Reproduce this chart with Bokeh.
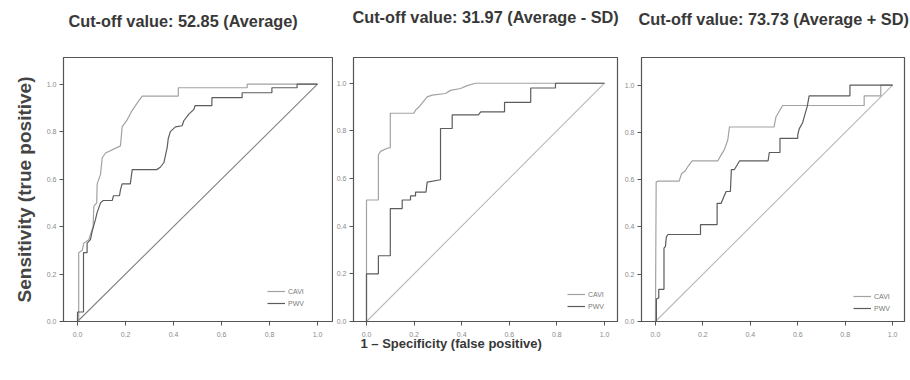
from bokeh.plotting import figure
from bokeh.layouts import row
from bokeh.models import Range1d, FixedTicker, Title
from bokeh.embed import file_html
from bokeh.resources import INLINE

# ---------------- data ----------------
ticks = [0.0, 0.2, 0.4, 0.6, 0.8, 1.0]
tick_labels = ["0.0", "0.2", "0.4", "0.6", "0.8", "1.0"]
series_names = ["CAVI", "PWV"]
titles = ["Cut-off value: 52.85 (Average)",
          "Cut-off value: 31.97 (Average - SD)",
          "Cut-off value: 73.73 (Average + SD)"]
x_title = "1 \u2013 Specificity (false positive)"
y_title = "Sensitivity (true positive)"

diag_x = [0.0, 1.0]
diag_y = [0.0, 1.0]

# Panel 1 (Average)
p1_cavi_x = [0, 0.005, 0.005, 0.02, 0.026, 0.047, 0.065, 0.068, 0.08, 0.082, 0.096, 0.103, 0.117,
             0.179, 0.186, 0.207, 0.228, 0.255, 0.27, 0.42, 0.42, 0.707, 0.707, 1.0]
p1_cavi_y = [0, 0, 0.29, 0.30, 0.33, 0.345, 0.40, 0.485, 0.50, 0.58, 0.62, 0.69, 0.71,
             0.74, 0.82, 0.85, 0.89, 0.93, 0.95, 0.95, 0.985, 0.985, 1.0, 1.0]
p1_pwv_x = [0, 0, 0.025, 0.025, 0.04, 0.04, 0.054, 0.061, 0.075, 0.082, 0.096, 0.107, 0.145, 0.15,
            0.175, 0.179, 0.186, 0.22, 0.228, 0.33, 0.345, 0.36, 0.374, 0.378, 0.387, 0.408, 0.436,
            0.443, 0.464, 0.485, 0.49, 0.56, 0.56, 0.686, 0.686, 0.81, 0.81, 0.915, 0.915, 1.0]
p1_pwv_y = [0, 0.04, 0.04, 0.29, 0.29, 0.33, 0.345, 0.38, 0.43, 0.46, 0.50, 0.51, 0.51, 0.53,
            0.53, 0.555, 0.58, 0.58, 0.64, 0.64, 0.65, 0.67, 0.735, 0.77, 0.80, 0.82, 0.825,
            0.846, 0.874, 0.894, 0.91, 0.91, 0.943, 0.943, 0.964, 0.964, 0.985, 0.985, 1.0, 1.0]

# Panel 2 (Average - SD)
p2_cavi_x = [0, 0, 0.05, 0.05, 0.059, 0.087, 0.10, 0.10, 0.199, 0.206, 0.22, 0.255, 0.276, 0.332,
             0.353, 0.395, 0.423, 0.458, 1.0]
p2_cavi_y = [0, 0.51, 0.51, 0.70, 0.714, 0.727, 0.73, 0.874, 0.874, 0.887, 0.90, 0.943, 0.95, 0.957,
             0.97, 0.978, 0.99, 1.0, 1.0]
p2_pwv_x = [0, 0, 0.05, 0.05, 0.10, 0.10, 0.15, 0.15, 0.185, 0.185, 0.206, 0.206, 0.25, 0.255, 0.311,
            0.311, 0.36, 0.36, 0.47, 0.48, 0.58, 0.58, 0.69, 0.69, 0.794, 0.794, 1.0]
p2_pwv_y = [0, 0.20, 0.20, 0.276, 0.276, 0.474, 0.474, 0.51, 0.51, 0.527, 0.527, 0.543, 0.543, 0.585,
            0.595, 0.81, 0.81, 0.867, 0.867, 0.88, 0.88, 0.92, 0.92, 0.98, 0.98, 1.0, 1.0]

# Panel 3 (Average + SD)
p3_cavi_x = [0, 0.003, 0.011, 0.10, 0.11, 0.125, 0.137, 0.155, 0.263, 0.277, 0.29, 0.305, 0.312,
             0.50, 0.508, 0.536, 0.88, 0.88, 0.95, 0.95, 1.0]
p3_cavi_y = [0, 0.59, 0.594, 0.594, 0.625, 0.637, 0.656, 0.68, 0.68, 0.705, 0.726, 0.768, 0.823,
             0.823, 0.865, 0.914, 0.914, 0.955, 0.955, 1.0, 1.0]
p3_pwv_x = [0, 0.004, 0.004, 0.014, 0.014, 0.036, 0.036, 0.042, 0.046, 0.053, 0.19, 0.19, 0.26, 0.26,
            0.277, 0.29, 0.298, 0.316, 0.32, 0.333, 0.355, 0.475, 0.48, 0.525, 0.525, 0.60, 0.60,
            0.606, 0.62, 0.627, 0.64, 0.648, 0.82, 0.82, 1.0]
p3_pwv_y = [0, 0, 0.095, 0.10, 0.136, 0.136, 0.31, 0.317, 0.358, 0.368, 0.368, 0.41, 0.41, 0.50,
            0.50, 0.532, 0.55, 0.55, 0.643, 0.643, 0.68, 0.68, 0.715, 0.715, 0.775, 0.775, 0.79,
            0.815, 0.84, 0.865, 0.91, 0.955, 0.955, 1.0, 1.0]

FONT = "Liberation Sans"
CAVI_COLOR = "#a2a2a2"
PWV_COLOR = "#5c5c5c"


def make_panel(title, cx, cy, wx, wy, width, bl, br, bt, bb, xr, yr, diag_color,
               leg_loc, title_offset, title_gap):
    p = figure(width=width, height=380, output_backend="svg", toolbar_location=None,
               title=None, x_range=Range1d(*xr), y_range=Range1d(*yr),
               min_border_left=bl, min_border_right=br, min_border_top=bt,
               min_border_bottom=bb)
    # spacer between frame and title
    p.add_layout(Title(text=" ", text_font_size="1px", standoff=title_gap), "above")
    p.add_layout(Title(text=title, align="left", offset=title_offset, standoff=2,
                       text_font=FONT, text_font_size="16.3px", text_font_style="bold",
                       text_color="#383838"), "above")
    p.background_fill_color = "white"
    p.border_fill_color = "white"
    p.outline_line_color = "#555555"
    p.outline_line_width = 1.2
    p.grid.visible = False
    for ax in (p.xaxis[0], p.yaxis[0]):
        ax.ticker = FixedTicker(ticks=ticks)
        ax.major_label_overrides = {t: l for t, l in zip(ticks, tick_labels)}
        ax.minor_tick_line_color = None
        ax.major_tick_in = 0
        ax.major_tick_out = 4
        ax.major_tick_line_color = "#555555"
        ax.axis_line_color = "#555555"
        ax.major_label_text_font = FONT
        ax.major_label_text_font_size = "7px"
        ax.major_label_text_color = "#8a8a8a"
        ax.major_label_standoff = 3
    p.xaxis[0].major_label_standoff = 6
    p.line(diag_x, diag_y, line_color=diag_color, line_width=1.1)
    p.line(cx, cy, line_color=CAVI_COLOR, line_width=1.2, legend_label=series_names[0])
    p.line(wx, wy, line_color=PWV_COLOR, line_width=1.2, legend_label=series_names[1])
    lg = p.legend[0]
    lg.location = leg_loc
    lg.margin = 0
    lg.padding = 0
    lg.spacing = 2
    lg.glyph_width = 18
    lg.glyph_height = 10
    lg.label_height = 10
    lg.label_standoff = 3
    lg.label_text_font = FONT
    lg.label_text_font_size = "7px"
    lg.label_text_color = "#7a7a7a"
    lg.border_line_color = None
    lg.background_fill_alpha = 0
    return p


p1 = make_panel(titles[0], p1_cavi_x, p1_cavi_y, p1_pwv_x, p1_pwv_y, 333, 63, 1, 55, 58,
                (-0.0583, 1.0625), (0.0, 1.1125), "#808080", (204, 13), 5, 24)
p1.yaxis[0].axis_label = y_title
p1.yaxis[0].axis_label_text_font = FONT
p1.yaxis[0].axis_label_text_font_size = "19px"
p1.yaxis[0].axis_label_text_font_style = "bold"
p1.yaxis[0].axis_label_text_color = "#444444"
p1.yaxis[0].axis_label_standoff = 9

p2 = make_panel(titles[1], p2_cavi_x, p2_cavi_y, p2_pwv_x, p2_pwv_y, 288, 20, 4, 57, 57,
                (-0.0546, 1.0546), (0.0, 1.108), "#b8b8b8", (214, 10), -1, 28)
try:
    xt = Title(text=x_title, align="left", offset=7, standoff=-8, vertical_align="top",
               text_font=FONT, text_font_size="13px", text_font_style="bold",
               text_color="#383838")
except Exception:
    xt = Title(text=x_title, align="left", offset=7, standoff=0, vertical_align="top",
               text_font=FONT, text_font_size="13px", text_font_style="bold",
               text_color="#383838")
p2.add_layout(xt, "below")

p3 = make_panel(titles[2], p3_cavi_x, p3_cavi_y, p3_pwv_x, p3_pwv_y, 289, 19, 6, 53, 59,
                (-0.0588, 1.05), (0.0, 1.117), "#b8b8b8", (212, 8), -3, 26)

layout = row(p1, p2, p3)
open("out.html", "w").write(file_html(layout, INLINE))
